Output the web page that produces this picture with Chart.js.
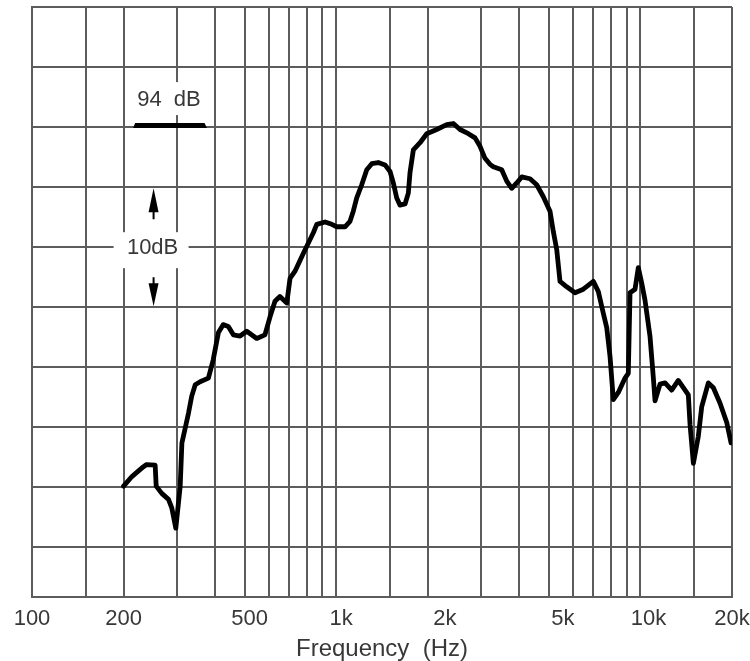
<!DOCTYPE html>
<html><head><meta charset="utf-8">
<script src="https://cdn.jsdelivr.net/npm/chart.js@4"></script>
<style>html,body{margin:0;padding:0;background:#fff}canvas{display:block}</style>
</head><body>
<canvas id="c" width="750" height="661"></canvas>
<script>
// ---- data ----
const freqHz = [200,213,232,238,254,256,267,281,288,297,307,311,318,327,335,344,357,380,394,410,425,442,459,483,508,548,583,606,629,653,688,705,732,780,810,841,863,919,967,1004,1069,1110,1138,1168,1213,1260,1309,1375,1447,1503,1541,1581,1621,1684,1726,1748,1793,1886,1984,2140,2308,2427,2553,2719,2860,2970,3084,3203,3284,3500,3635,3776,3921,4072,4336,4561,4795,5044,5172,5307,5441,5724,6095,6492,7002,7272,7551,7749,7945,8145,8460,8900,9124,9243,9600,9842,10100,10350,10750,11030,11170,11600,12050,12670,13320,14020,14370,14560,14930,15500,15900,16720,17370,18270,19220,19860];
const levelDb = [64.1,64.9,65.7,65.9,65.85,64.1,63.5,63.0,62.3,60.6,64.1,67.7,68.8,70.2,71.6,72.55,72.8,73.1,74.6,76.9,77.55,77.4,76.7,76.6,77.0,76.4,76.7,78.2,79.5,79.9,79.35,81.4,82.0,83.5,84.35,85.2,85.9,86.1,85.9,85.7,85.7,86.15,87.0,88.1,89.2,90.45,90.95,91.05,90.85,90.3,89.35,88.1,87.5,87.6,88.5,90.2,92.1,92.7,93.45,93.8,94.2,94.3,93.8,93.45,93.1,92.4,91.4,90.9,90.7,90.45,89.5,88.9,89.35,89.85,89.7,89.2,88.2,87.0,85.3,83.8,81.15,80.7,80.2,80.5,81.15,80.3,78.5,77.3,74.9,71.3,71.9,73.1,73.5,80.2,80.5,82.3,81.0,79.6,76.6,73.1,71.2,72.6,72.7,72.1,72.9,72.1,71.7,69.2,66.0,68.25,70.7,72.7,72.3,71.0,69.4,67.7];
const gridFreqs = [100,150,200,300,400,500,600,700,800,900,1000,1500,2000,3000,4000,5000,6000,7000,8000,9000,10000,15000,20000];
const tickLabels = {100:'100',200:'200',500:'500',1000:'1k',2000:'2k',5000:'5k',10000:'10k',20000:'20k'};
const gridDb = [59,64,69,74,79,84,89,94,99,104];
const refLevelDb = 94;           // "94 dB" reference bar
const refBarHz = [215, 376];
const scaleSpanDb = [79, 89];     // "10dB" arrows
const scaleMarkHz = 251;

// ---- styling ----
const FONT = '"Liberation Sans", Arial, Helvetica, sans-serif';
const GRID = '#5c5c5c';
const TEXT = '#383838';
const labelNudge = {'500':5,'1k':5,'2k':17,'5k':14,'10k':8};

const annot = {
  id: 'annot',
  beforeDraw(chart) {
    const xs = chart.scales.x;
    const items = xs.getLabelItems(chart.chartArea);
    items.forEach(it => {
      const n = labelNudge[it.label];
      if (n) it.options.translation = [it.options.translation[0] + n, it.options.translation[1]];
    });
  },
  beforeDatasetsDraw(chart) {
    const {ctx, scales: {x, y}} = chart;
    ctx.save();
    // 94 dB label
    const lx = x.getPixelForValue(282);
    const ly = y.getPixelForValue(refLevelDb);
    ctx.fillStyle = '#fff';
    ctx.fillRect(lx - 34, ly - 45, 70, 33);
    // 10 dB label
    const ax = x.getPixelForValue(scaleMarkHz);
    const midY = y.getPixelForValue((scaleSpanDb[0] + scaleSpanDb[1]) / 2);
    ctx.fillRect(ax - 40, midY - 15, 75, 36);
    ctx.fillStyle = TEXT;
    ctx.font = '22px ' + FONT;
    ctx.textAlign = 'center';
    ctx.textBaseline = 'alphabetic';
    ctx.fillText('94  dB', lx, ly - 21.5);
    ctx.fillText('10dB', ax - 1, midY + 6.5);
    // reference bar
    const b0 = x.getPixelForValue(refBarHz[0]), b1 = x.getPixelForValue(refBarHz[1]);
    ctx.fillStyle = '#000';
    ctx.beginPath();
    ctx.moveTo(b0 + 2, ly - 4);
    ctx.lineTo(b1 - 2.5, ly - 4);
    ctx.lineTo(b1, ly + 1);
    ctx.lineTo(b0, ly + 1);
    ctx.closePath();
    ctx.fill();
    // arrows
    const top = y.getPixelForValue(scaleSpanDb[1]);
    const bot = y.getPixelForValue(scaleSpanDb[0]);
    ctx.beginPath();
    ctx.moveTo(ax, top + 1);
    ctx.lineTo(ax - 5, top + 25);
    ctx.lineTo(ax + 5, top + 25);
    ctx.closePath();
    ctx.fill();
    ctx.beginPath();
    ctx.moveTo(ax, bot - 1);
    ctx.lineTo(ax - 5, bot - 24);
    ctx.lineTo(ax + 5, bot - 24);
    ctx.closePath();
    ctx.fill();
    ctx.strokeStyle = '#000';
    ctx.lineWidth = 2;
    ctx.beginPath();
    ctx.moveTo(ax, top + 15); ctx.lineTo(ax, top + 32);
    ctx.moveTo(ax, bot - 15); ctx.lineTo(ax, bot - 30);
    ctx.stroke();
    ctx.restore();
  }
};

new Chart(document.getElementById('c'), {
  type: 'line',
  data: {
    datasets: [{
      data: freqHz.map((f, i) => ({x: f, y: levelDb[i]})),
      borderColor: '#000',
      borderWidth: 4.8,
      pointRadius: 0,
      tension: 0,
      fill: false,
      borderJoinStyle: 'round',
      borderCapStyle: 'round'
    }]
  },
  options: {
    responsive: false,
    animation: false,
    events: [],
    layout: {padding: {left: 32, right: 18, top: 7, bottom: 0}},
    plugins: {legend: {display: false}, tooltip: {enabled: false}},
    scales: {
      x: {
        type: 'logarithmic', min: 100, max: 20000,
        afterBuildTicks: s => { s.ticks = gridFreqs.map(v => ({value: v})); },
        afterFit: s => { s.height = 64; s.paddingLeft = 0; s.paddingRight = 0; },
        ticks: {
          autoSkip: false, maxRotation: 0, minRotation: 0, padding: 9,
          color: TEXT, font: {family: FONT, size: 22},
          callback: v => tickLabels[v] || ''
        },
        grid: {color: GRID, lineWidth: 2, drawTicks: false},
        border: {display: true, color: GRID, width: 2},
        title: {display: true, text: 'Frequency  (Hz)', color: TEXT,
                font: {family: FONT, size: 24}, padding: {top: 0, bottom: -3}}
      },
      y: {
        min: 54.87, max: 104,
        afterBuildTicks: s => { s.ticks = gridDb.map(v => ({value: v})); },
        afterFit: s => { s.width = 0; },
        ticks: {display: false},
        grid: {color: GRID, lineWidth: 2, drawTicks: false},
        border: {display: true, color: GRID, width: 2}
      }
    }
  },
  plugins: [annot]
});
</script>
</body></html>
